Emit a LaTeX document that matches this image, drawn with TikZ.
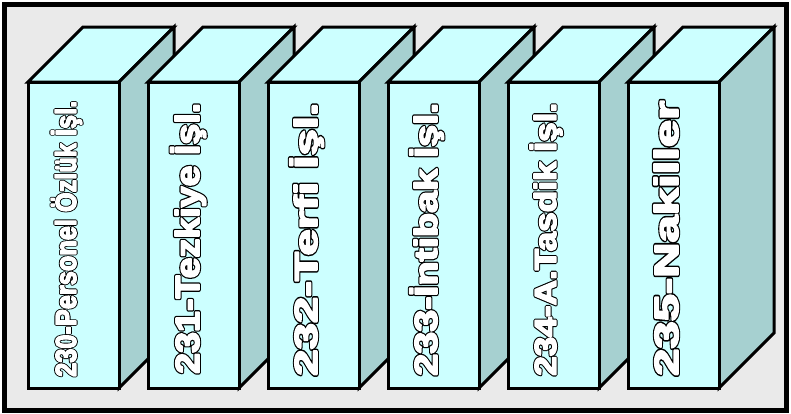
\documentclass[tikz,border=0pt]{standalone}
\usepackage{fontspec}
\setmainfont{Liberation Sans}[BoldFont={Liberation Sans Bold}]
\definecolor{bgGray}{HTML}{EAEAEA}
\definecolor{faceCyan}{HTML}{CCFFFF}
\definecolor{sideTeal}{HTML}{A6D0D0}
\newcommand{\outlinetext}[1]{%
  \rlap{\special{pdf:literal direct 1 Tr 3.1 w 0 G 1 j}#1\special{pdf:literal direct 0 Tr}}%
  {\color{white}\special{pdf:literal direct 2 Tr 1.3 w 1 G 1 j}#1\special{pdf:literal direct 0 Tr 0 G}}}
\newcommand{\boxlabel}[3]{% length, height, text
  {\bfseries\fontsize{28}{30}\selectfont
  \resizebox{#1}{#2}{\raisebox{0pt}[\fontcharht\font`H][0pt]{\outlinetext{#3}}}}}
\begin{document}
\begin{tikzpicture}[x=1pt,y=-1pt,
  facestyle/.style={draw=black,line width=3pt,line join=miter,fill=faceCyan},
  sidestyle/.style={draw=black,line width=3pt,line join=miter,fill=sideTeal},
  labelstyle/.style={rotate=90,anchor=base west,inner sep=0pt}]
\useasboundingbox (0,0) rectangle (791,413);
\fill[white] (0,0) rectangle (791,413);
\draw[line width=5pt,fill=bgGray] (4.5,4.5) rectangle (786.5,410.5);
\foreach \i in {0,...,5}{
  \pgfmathsetmacro{\L}{28+120*\i}
  \draw[facestyle] (\L,82) -- (\L+55,27) -- (\L+146,27) -- (\L+91,82) -- cycle;
  \draw[sidestyle] (\L+91,82) -- (\L+146,27) -- (\L+146,333) -- (\L+91,388) -- cycle;
  \draw[facestyle] (\L,82) rectangle (\L+91,388);
}
\node[labelstyle] (t0) at (76,377) {\boxlabel{276pt}{20pt}{230-Personel Özlük İşl.}};
\node[labelstyle] (t1) at (199,374) {\boxlabel{271pt}{23pt}{231-Tezkiye İşl.}};
\node[labelstyle] (t2) at (317,376) {\boxlabel{273pt}{22pt}{232-Terfi İşl.}};
\node[labelstyle] (t3) at (437,376) {\boxlabel{273pt}{22pt}{233-İntibak İşl.}};
\node[labelstyle] (t4) at (556,376) {\boxlabel{273pt}{21pt}{234-A.Tasdik İşl.}};
\node[labelstyle] (t5) at (678,376) {\boxlabel{275pt}{23pt}{235-Nakiller}};
\end{tikzpicture}
\end{document}
